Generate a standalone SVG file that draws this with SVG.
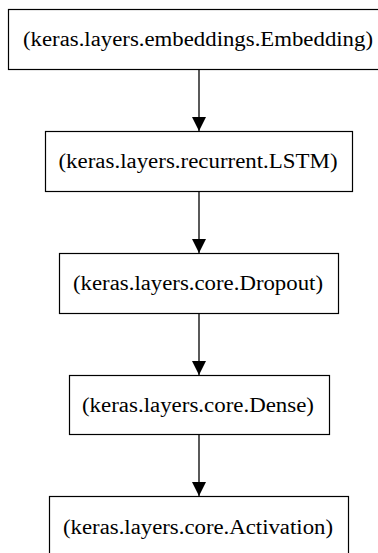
<svg xmlns="http://www.w3.org/2000/svg" width="378" height="553" viewBox="0 0 378 553">
<style>
.box{fill:#fff;stroke:#000;stroke-width:1.2}
.lbl{font-family:"Liberation Serif","Times New Roman",serif;font-size:20.5px;fill:#000;text-anchor:middle}
.edge{stroke:#000;stroke-width:1.3;fill:none}
</style>
<defs>
<marker id="ah" markerUnits="userSpaceOnUse" markerWidth="14" markerHeight="18" refX="14" refY="7" orient="auto">
<path d="M0,0 L14,7 L0,14 Z" fill="#000"/>
</marker>
</defs>
<rect width="378" height="553" fill="#fff"/>
<g id="connectors">
<line class="edge" x1="199" y1="69" x2="199" y2="131" marker-end="url(#ah)"/>
<line class="edge" x1="199" y1="191" x2="199" y2="253" marker-end="url(#ah)"/>
<line class="edge" x1="199" y1="313" x2="199" y2="375" marker-end="url(#ah)"/>
<line class="edge" x1="199" y1="434" x2="199" y2="496" marker-end="url(#ah)"/>
</g>
<g id="embedding">
<rect class="box" x="8.5" y="9.5" width="382" height="60"/>
<text class="lbl" x="198" y="45.5" textLength="350" lengthAdjust="spacingAndGlyphs">(keras.layers.embeddings.Embedding)</text>
</g>
<g id="lstm">
<rect class="box" x="45.5" y="131.5" width="307" height="60"/>
<text class="lbl" x="198" y="167.5" textLength="279" lengthAdjust="spacingAndGlyphs">(keras.layers.recurrent.LSTM)</text>
</g>
<g id="dropout">
<rect class="box" x="59.5" y="253.5" width="279" height="60"/>
<text class="lbl" x="198" y="289.5" textLength="250" lengthAdjust="spacingAndGlyphs">(keras.layers.core.Dropout)</text>
</g>
<g id="dense">
<rect class="box" x="69.5" y="375.5" width="260" height="59"/>
<text class="lbl" x="198" y="411.5" textLength="232" lengthAdjust="spacingAndGlyphs">(keras.layers.core.Dense)</text>
</g>
<g id="activation">
<rect class="box" x="49.5" y="496.5" width="299" height="70"/>
<text class="lbl" x="198" y="533.5" textLength="270" lengthAdjust="spacingAndGlyphs">(keras.layers.core.Activation)</text>
</g>
</svg>
